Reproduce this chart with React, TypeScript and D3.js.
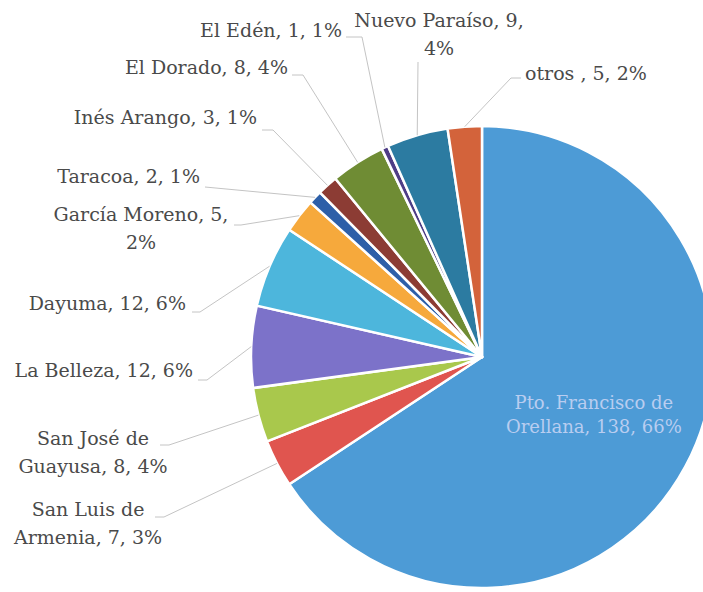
import * as d3 from 'd3';

const categories = [
  'Pto. Francisco de Orellana',
  'San Luis de Armenia',
  'San José de Guayusa',
  'La Belleza',
  'Dayuma',
  'García Moreno',
  'Taracoa',
  'Inés Arango',
  'El Dorado',
  'El Edén',
  'Nuevo Paraíso',
  'otros ',
];
const values = [138, 7, 8, 12, 12, 5, 2, 3, 8, 1, 9, 5];
const percents = ['66%', '3%', '4%', '6%', '6%', '2%', '1%', '1%', '4%', '1%', '4%', '2%'];
const colors = [
  '#4d9bd6',
  '#e0554f',
  '#a9c84c',
  '#7c72c9',
  '#4db6dc',
  '#f6a93c',
  '#2d5fa8',
  '#8c3c34',
  '#6f8c34',
  '#4e3d86',
  '#2c7ba1',
  '#d3633b',
];

// label layout: text lines, anchor x, first baseline, leader start + elbow
type LabelLayout = {
  lines: string[];
  x: number;
  y: number;
  anchor: 'start' | 'middle' | 'end';
  from: [number, number];
  elbow?: [number, number];
};

const layout: (LabelLayout | null)[] = [
  null,
  { lines: ['San Luis de', 'Armenia, 7, 3%'], x: 88, y: 516, anchor: 'middle', from: [155, 517], elbow: [164, 517] },
  { lines: ['San José de', 'Guayusa, 8, 4%'], x: 93, y: 445, anchor: 'middle', from: [160, 445], elbow: [169, 445] },
  { lines: ['La Belleza, 12, 6%'], x: 193, y: 377, anchor: 'end', from: [198, 380], elbow: [207, 380] },
  { lines: ['Dayuma, 12, 6%'], x: 186, y: 310, anchor: 'end', from: [192, 312], elbow: [200, 312] },
  { lines: ['García Moreno, 5,', '2%'], x: 141, y: 221, anchor: 'middle', from: [234, 225], elbow: [241, 225] },
  { lines: ['Taracoa, 2, 1%'], x: 200, y: 183, anchor: 'end', from: [205, 187] },
  { lines: ['Inés Arango, 3, 1%'], x: 257, y: 124, anchor: 'end', from: [262, 130], elbow: [273, 130] },
  { lines: ['El Dorado, 8, 4%'], x: 288, y: 74, anchor: 'end', from: [292, 75], elbow: [303, 75] },
  { lines: ['El Edén, 1, 1%'], x: 342, y: 37, anchor: 'end', from: [346, 37], elbow: [362, 37] },
  { lines: ['Nuevo Paraíso, 9,', '4%'], x: 439, y: 27, anchor: 'middle', from: [418, 62] },
  { lines: ['otros , 5, 2%'], x: 525, y: 80, anchor: 'start', from: [521, 78], elbow: [511, 78] },
];

export default function App() {
  const width = 703;
  const height = 592;
  const cx = 482;
  const cy = 357;
  const r = 231;
  const fontFamily = '"DejaVu Serif", serif';

  const pie = d3
    .pie<number>()
    .sort(null)
    .value((d) => d)
    .startAngle(0)
    .endAngle(2 * Math.PI);
  const arcs = pie(values);

  const arc = d3.arc<d3.PieArcDatum<number>>().innerRadius(0).outerRadius(r);
  const edge = d3.arc<d3.PieArcDatum<number>>().innerRadius(r).outerRadius(r);
  const inner = d3.arc<d3.PieArcDatum<number>>().innerRadius(127).outerRadius(127);
  const line = d3.line();

  const big = inner.centroid(arcs[0]);

  return (
    <svg
      width={width}
      height={height}
      viewBox={`0 0 ${width} ${height}`}
      style={{ position: 'absolute', left: 0, top: 0, background: '#fff' }}
    >
      <g transform={`translate(${cx},${cy})`}>
        {arcs.map((a, i) => (
          <path key={categories[i]} d={arc(a) ?? ''} fill={colors[i]} stroke="#fff" strokeWidth={2.5} strokeLinejoin="round" />
        ))}
      </g>
      {arcs.map((a, i) => {
        const l = layout[i];
        if (!l) return null;
        const [ex, ey] = edge.centroid(a);
        const pts: [number, number][] = [l.from];
        if (l.elbow) pts.push(l.elbow);
        pts.push([cx + ex, cy + ey]);
        return <path key={'ld' + i} d={line(pts) ?? ''} fill="none" stroke="#c4c4c4" strokeWidth={1} />;
      })}
      {layout.map((l, i) =>
        l ? (
          <text
            key={'lb' + i}
            x={l.x}
            y={l.y}
            textAnchor={l.anchor}
            fontFamily={fontFamily}
            fontSize={19}
            fill="#4a4a4a"
          >
            {l.lines.map((t, j) => (
              <tspan key={j} x={l.x} dy={j === 0 ? 0 : 28}>
                {t}
              </tspan>
            ))}
          </text>
        ) : null
      )}
      <text
        x={cx + big[0]}
        y={cy + big[1] - 8}
        textAnchor="middle"
        fontFamily={fontFamily}
        fontSize={18}
        fill="#b9cdf0"
      >
        <tspan x={cx + big[0]} dy={0}>
          Pto. Francisco de
        </tspan>
        <tspan x={cx + big[0]} dy={24}>
          {`Orellana, ${values[0]}, ${percents[0]}`}
        </tspan>
      </text>
    </svg>
  );
}
